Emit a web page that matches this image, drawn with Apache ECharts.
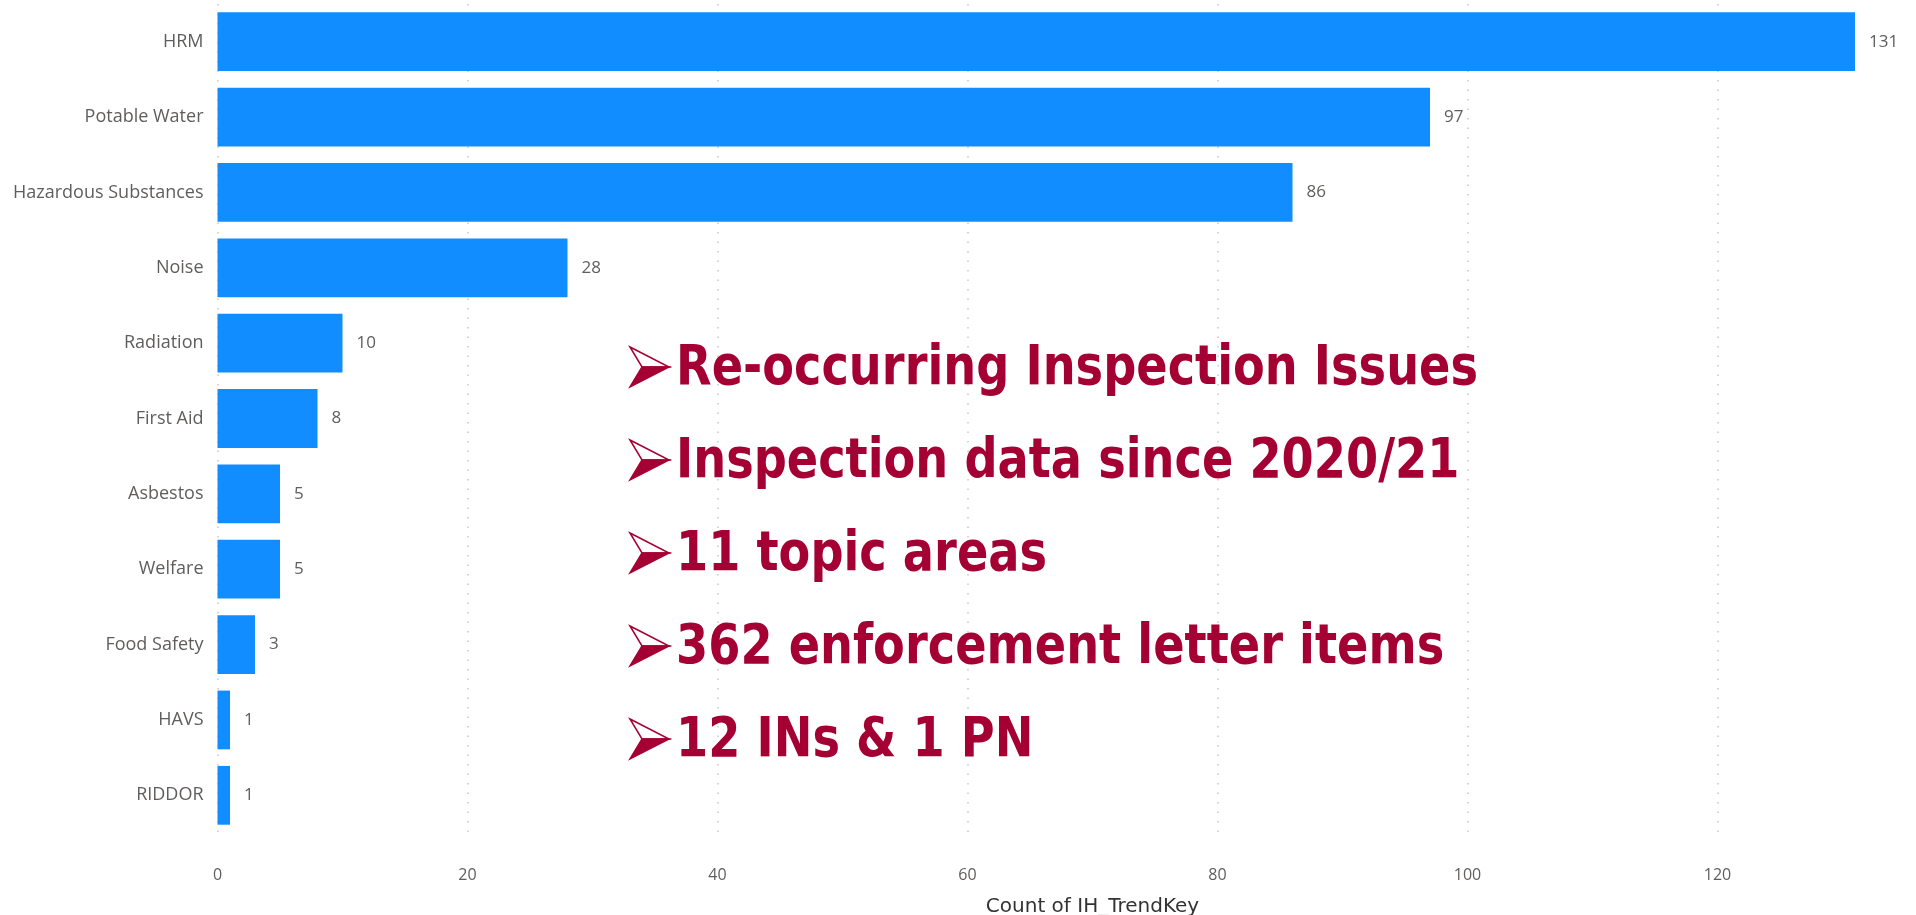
<!DOCTYPE html>
<html>
<head>
<meta charset="utf-8">
<style>
  html, body { margin: 0; padding: 0; background: #fff; }
  #chart { width: 1916px; height: 915px; }
</style>
<script src="https://cdn.jsdelivr.net/npm/echarts@6/dist/echarts.min.js"></script>
</head>
<body>
<div id="chart"></div>
<script>
var categories = ['HRM', 'Potable Water', 'Hazardous Substances', 'Noise', 'Radiation', 'First Aid', 'Asbestos', 'Welfare', 'Food Safety', 'HAVS', 'RIDDOR'];
var counts = [131, 97, 86, 28, 10, 8, 5, 5, 3, 1, 1];
var notes = [
  'Re-occurring Inspection Issues',
  'Inspection data since 2020/21',
  '11 topic areas',
  '362 enforcement letter items',
  '12 INs & 1 PN'
];

var grey = '#605e5c';
var blue = '#118dff';
var red = '#a50034';

var chart = echarts.init(document.getElementById('chart'), null, { renderer: 'canvas' });

// bullet list over the plot: 3D arrowhead + bold condensed text
var graphics = [];
notes.forEach(function (t, i) {
  var cy = 367 + i * 93;
  graphics.push({
    type: 'polygon', z: 100,
    shape: { points: [[630, cy - 20], [669, cy], [642, cy]] },
    style: { fill: '#fff', stroke: red, lineWidth: 1.5 }
  });
  graphics.push({
    type: 'polygon', z: 100,
    shape: { points: [[642, cy], [669, cy], [630, cy + 20]] },
    style: { fill: red, stroke: red, lineWidth: 1.5 }
  });
  graphics.push({
    type: 'text', x: 676, y: cy - 25, z: 100, scaleX: 0.935,
    style: { text: t, font: 'bold 55px "DejaVu Sans Condensed", sans-serif', fill: red }
  });
});

chart.setOption({
  animation: false,
  grid: { left: 217.5, right: -51.5, top: 4, bottom: 82, outerBoundsMode: 'none', containLabel: false },
  xAxis: {
    type: 'value', min: 0, max: 140, interval: 20,
    name: 'Count of IH_TrendKey', nameLocation: 'middle', nameGap: 64,
    nameTextStyle: { color: '#333', fontSize: 20, fontFamily: 'DejaVu Sans' },
    axisLine: { show: false }, axisTick: { show: false },
    axisLabel: { color: grey, fontSize: 16, fontFamily: 'Open Sans', margin: 34 },
    splitLine: { lineStyle: { color: '#c8c8c8', width: 1.5, type: [1.5, 8] } }
  },
  yAxis: {
    type: 'category', data: categories, inverse: true,
    axisLine: { show: false }, axisTick: { show: false },
    axisLabel: { color: grey, fontSize: 18, fontFamily: 'Open Sans', margin: 14 }
  },
  series: [{
    type: 'bar', data: counts, barCategoryGap: '22%',
    itemStyle: { color: blue },
    label: { show: true, position: 'right', distance: 14, color: grey, fontSize: 17, fontFamily: 'Open Sans' }
  }],
  graphic: graphics
});
</script>
</body>
</html>
